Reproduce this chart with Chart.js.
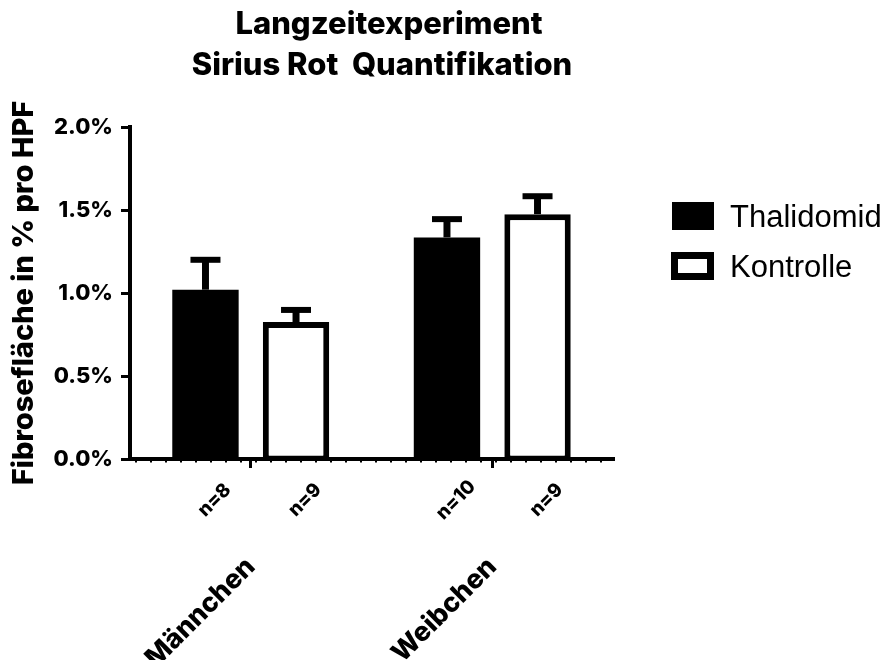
<!DOCTYPE html>
<html>
<head>
<meta charset="utf-8">
<script src="https://cdn.jsdelivr.net/npm/chart.js@4/dist/chart.umd.min.js"></script>
<style>
  body { margin: 0; background: #fff; }
  #wrap { width: 887px; height: 660px; }
</style>
</head>
<body>
<div id="wrap"><canvas id="fibroseChart" width="887" height="660"></canvas></div>
<script>
// values (% of HPF)
var categories = ['Männchen', 'Weibchen'];
var seriesNames = ['Thalidomid', 'Kontrolle'];
var thalidomid = [1.02, 1.335];
var thalidomidErr = [0.18, 0.11];
var kontrolle = [0.825, 1.475];
var kontrolleErr = [0.073, 0.108];
var nThalidomid = [8, 10];
var nKontrolle = [9, 9];
var yTicks = [0, 0.5, 1.0, 1.5, 2.0];
var titleLines = ['Langzeitexperiment', 'Sirius Rot  Quantifikation'];

var errors = [thalidomidErr, kontrolleErr];
var nCounts = [nThalidomid, nKontrolle];

var boldFont = 'Inter, "DejaVu Sans", sans-serif';

// upper error bars + n labels under each bar
var extras = {
    id: 'extras',
    afterDatasetsDraw: function (chart) {
        var ctx = chart.ctx;
        var y = chart.scales.y;
        ctx.save();
        ctx.strokeStyle = '#000';
        chart.data.datasets.forEach(function (ds, i) {
            var meta = chart.getDatasetMeta(i);
            meta.data.forEach(function (bar, j) {
                var top = y.getPixelForValue(ds.data[j] + errors[i][j]);
                ctx.lineWidth = 7;
                ctx.beginPath();
                ctx.moveTo(bar.x, bar.y);
                ctx.lineTo(bar.x, top);
                ctx.stroke();
                ctx.lineWidth = 6;
                ctx.beginPath();
                ctx.moveTo(bar.x - 15, top);
                ctx.lineTo(bar.x + 15, top);
                ctx.stroke();

                ctx.save();
                ctx.translate(bar.x + 9, 500);
                ctx.rotate(-Math.PI / 4);
                ctx.fillStyle = '#000';
                ctx.font = '800 19px ' + boldFont;
                ctx.textAlign = 'center';
                ctx.textBaseline = 'middle';
                ctx.fillText('n=' + nCounts[i][j], 0, 0);
                ctx.restore();
            });
        });
        ctx.restore();
    },
    afterDraw: function (chart) {
        var ctx = chart.ctx;
        var area = chart.chartArea;
        ctx.save();
        // minor dots under the x axis
        ctx.strokeStyle = '#000';
        ctx.lineWidth = 3;
        ctx.setLineDash([2, 13]);
        ctx.beginPath();
        ctx.moveTo(area.left + 5, area.bottom + 2);
        ctx.lineTo(area.right, area.bottom + 2);
        ctx.stroke();
        ctx.setLineDash([]);

        // title
        ctx.fillStyle = '#000';
        ctx.font = '800 31px ' + boldFont;
        ctx.textAlign = 'center';
        ctx.textBaseline = 'alphabetic';
        ctx.fillText(titleLines[0], 389, 34);
        ctx.fillText(titleLines[1], 382, 75);

        // legend
        ctx.fillRect(672, 202, 42, 28);
        ctx.lineWidth = 7;
        ctx.strokeRect(674.5, 255.5, 36, 21);
        ctx.font = '31px "Liberation Sans", Arial, sans-serif';
        ctx.textAlign = 'left';
        ctx.fillText(seriesNames[0], 730, 227);
        ctx.fillText(seriesNames[1], 730, 277);
        ctx.restore();
    }
};

var ctx = document.getElementById('fibroseChart');
var chart = new Chart(ctx, {
    type: 'bar',
    data: {
        labels: categories,
        datasets: [
            {
                label: seriesNames[0],
                data: thalidomid,
                backgroundColor: '#000',
                borderWidth: 0
            },
            {
                label: seriesNames[1],
                data: kontrolle,
                backgroundColor: '#fff',
                borderColor: '#000',
                borderWidth: { top: 6, left: 6, right: 6, bottom: 2 },
                borderSkipped: false
            }
        ]
    },
    options: {
        responsive: false,
        animation: false,
        categoryPercentage: 0.75,
        barPercentage: 0.733,
        layout: { padding: { left: 0, top: 127, right: 274, bottom: 0 } },
        plugins: {
            legend: { display: false },
            title: { display: false },
            tooltip: { enabled: false }
        },
        scales: {
            x: {
                afterFit: function (scale) { scale.height = 201; },
                grid: {
                    offset: false,
                    drawOnChartArea: false,
                    drawTicks: true,
                    tickLength: 9,
                    lineWidth: 3,
                    color: '#000'
                },
                border: { color: '#000', width: 4 },
                ticks: {
                    color: '#000',
                    autoSkip: false,
                    minRotation: 45,
                    maxRotation: 45,
                    padding: 83,
                    font: { family: boldFont, size: 27, weight: 800 }
                }
            },
            y: {
                min: 0,
                max: 2,
                afterFit: function (scale) { scale.width = 130; },
                afterBuildTicks: function (scale) {
                    scale.ticks = yTicks.map(function (v) { return { value: v }; });
                },
                grid: {
                    drawOnChartArea: false,
                    drawTicks: true,
                    tickLength: 9,
                    lineWidth: 3,
                    color: '#000'
                },
                border: { color: '#000', width: 4 },
                ticks: {
                    color: '#000',
                    padding: 8,
                    font: { family: boldFont, size: 22, weight: 800 },
                    callback: function (v) { return v.toFixed(1) + '%'; }
                },
                title: {
                    display: true,
                    text: 'Fibrosefläche in % pro HPF',
                    color: '#000',
                    padding: { top: 7, bottom: 0 },
                    font: { family: boldFont, size: 29, weight: 800 }
                }
            }
        }
    },
    plugins: [extras]
});
</script>
</body>
</html>
